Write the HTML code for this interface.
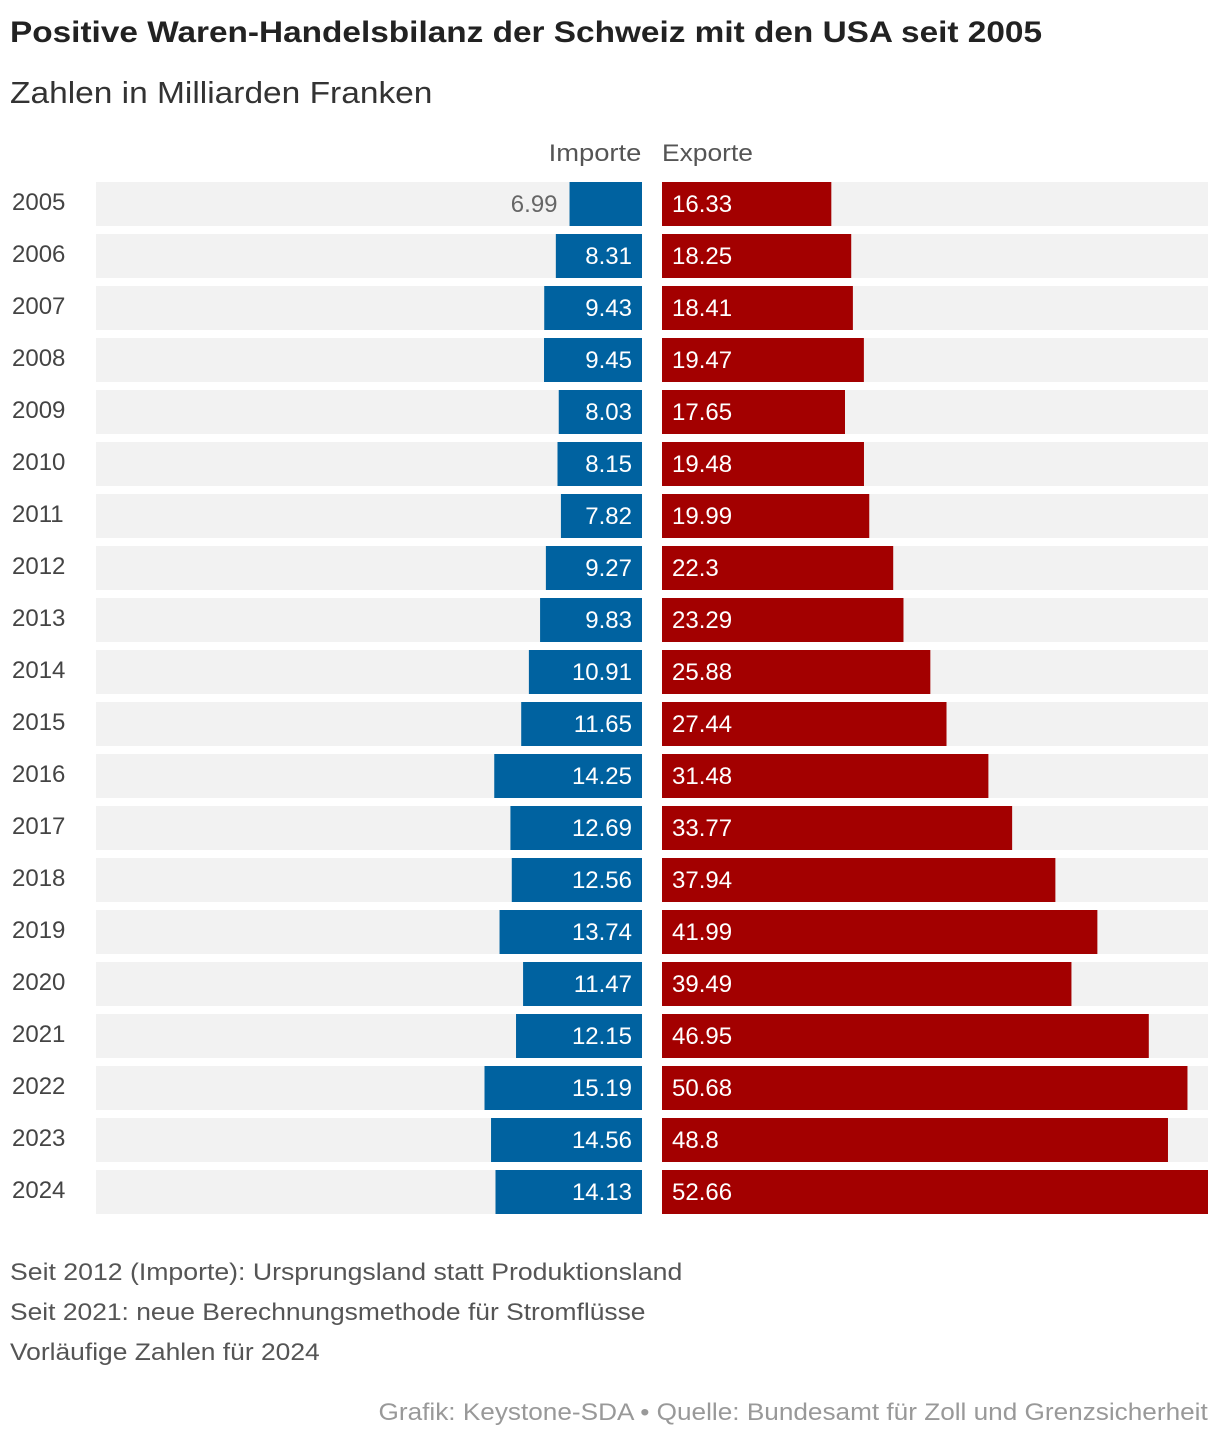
<!DOCTYPE html>
<html><head><meta charset="utf-8"><style>
body{margin:0;width:1220px;height:1444px;background:#fff;font-family:"Liberation Sans",sans-serif;position:relative;overflow:hidden}
.t{position:absolute;white-space:nowrap}
</style></head><body>
<div class="t" style="left:10px;top:16px;font-size:30px;font-weight:bold;color:#222;transform:scaleX(1.112);transform-origin:left">Positive Waren-Handelsbilanz der Schweiz mit den USA seit 2005</div>
<div class="t" style="left:10px;top:75px;font-size:31px;color:#333;transform:scaleX(1.08);transform-origin:left">Zahlen in Milliarden Franken</div>
<div class="t" style="right:579px;top:140px;font-size:24px;color:#555;transform:scaleX(1.14);transform-origin:right">Importe</div>
<div class="t" style="left:662px;top:140px;font-size:24px;color:#555;transform:scaleX(1.1);transform-origin:left">Exporte</div>
<svg id="chart" width="1220" height="1230" style="position:absolute;left:0;top:0"></svg>
<div class="t" style="left:10px;top:1259px;font-size:24px;color:#555;transform:scaleX(1.11);transform-origin:left">Seit 2012 (Importe): Ursprungsland statt Produktionsland</div>
<div class="t" style="left:10px;top:1299px;font-size:24px;color:#555;transform:scaleX(1.10);transform-origin:left">Seit 2021: neue Berechnungsmethode für Stromflüsse</div>
<div class="t" style="left:10px;top:1339px;font-size:24px;color:#555;transform:scaleX(1.1);transform-origin:left">Vorläufige Zahlen für 2024</div>
<div class="t" style="right:12px;top:1399px;font-size:24px;color:#999;transform:scaleX(1.09);transform-origin:right">Grafik: Keystone-SDA • Quelle: Bundesamt für Zoll und Grenzsicherheit</div>
<script>
const years=[2005,2006,2007,2008,2009,2010,2011,2012,2013,2014,2015,2016,2017,2018,2019,2020,2021,2022,2023,2024];
const imports=[6.99,8.31,9.43,9.45,8.03,8.15,7.82,9.27,9.83,10.91,11.65,14.25,12.69,12.56,13.74,11.47,12.15,15.19,14.56,14.13];
const exports=[16.33,18.25,18.41,19.47,17.65,19.48,19.99,22.3,23.29,25.88,27.44,31.48,33.77,37.94,41.99,39.49,46.95,50.68,48.8,52.66];
const svg=document.getElementById('chart');
const NS='http://www.w3.org/2000/svg';
const maxV=52.66, W=546, mid=642, rx=662;
const sc=v=>v/maxV*W;
const rowY=i=>182+i*52;
function mk(tag,attrs){const e=document.createElementNS(NS,tag);for(const k in attrs)e.setAttribute(k,attrs[k]);svg.appendChild(e);return e;}
years.forEach((yr,i)=>{
  const y=rowY(i);
  const bl=mk('rect',{x:96,y:y,width:546,height:44,fill:'#f2f2f2'});
  
  
  const br=mk('rect',{x:rx,y:y,width:546,height:44,fill:'#f2f2f2'});
  
  
  const wi=sc(imports[i]);
  const ib=mk('rect',{x:mid-wi,y:y,width:wi,height:44,fill:'#0062a0'});
  
  
  const we=sc(exports[i]);
  const eb=mk('rect',{x:rx,y:y,width:we,height:44,fill:'#a30000'});
  
  
  const yl=mk('text',{x:12,y:y+28,'font-size':24,fill:'#444'});
  yl.textContent=yr;
  
  
  const inside=wi>80;
  const il=mk('text',{x:inside?632:mid-wi-12,y:y+30,'font-size':24,fill:inside?'#fff':'#666','text-anchor':'end'});
  il.textContent=imports[i];
  
  
  const el=mk('text',{x:672,y:y+30,'font-size':24,fill:'#fff'});
  el.textContent=exports[i];
  
  
});
</script>
</body></html>
